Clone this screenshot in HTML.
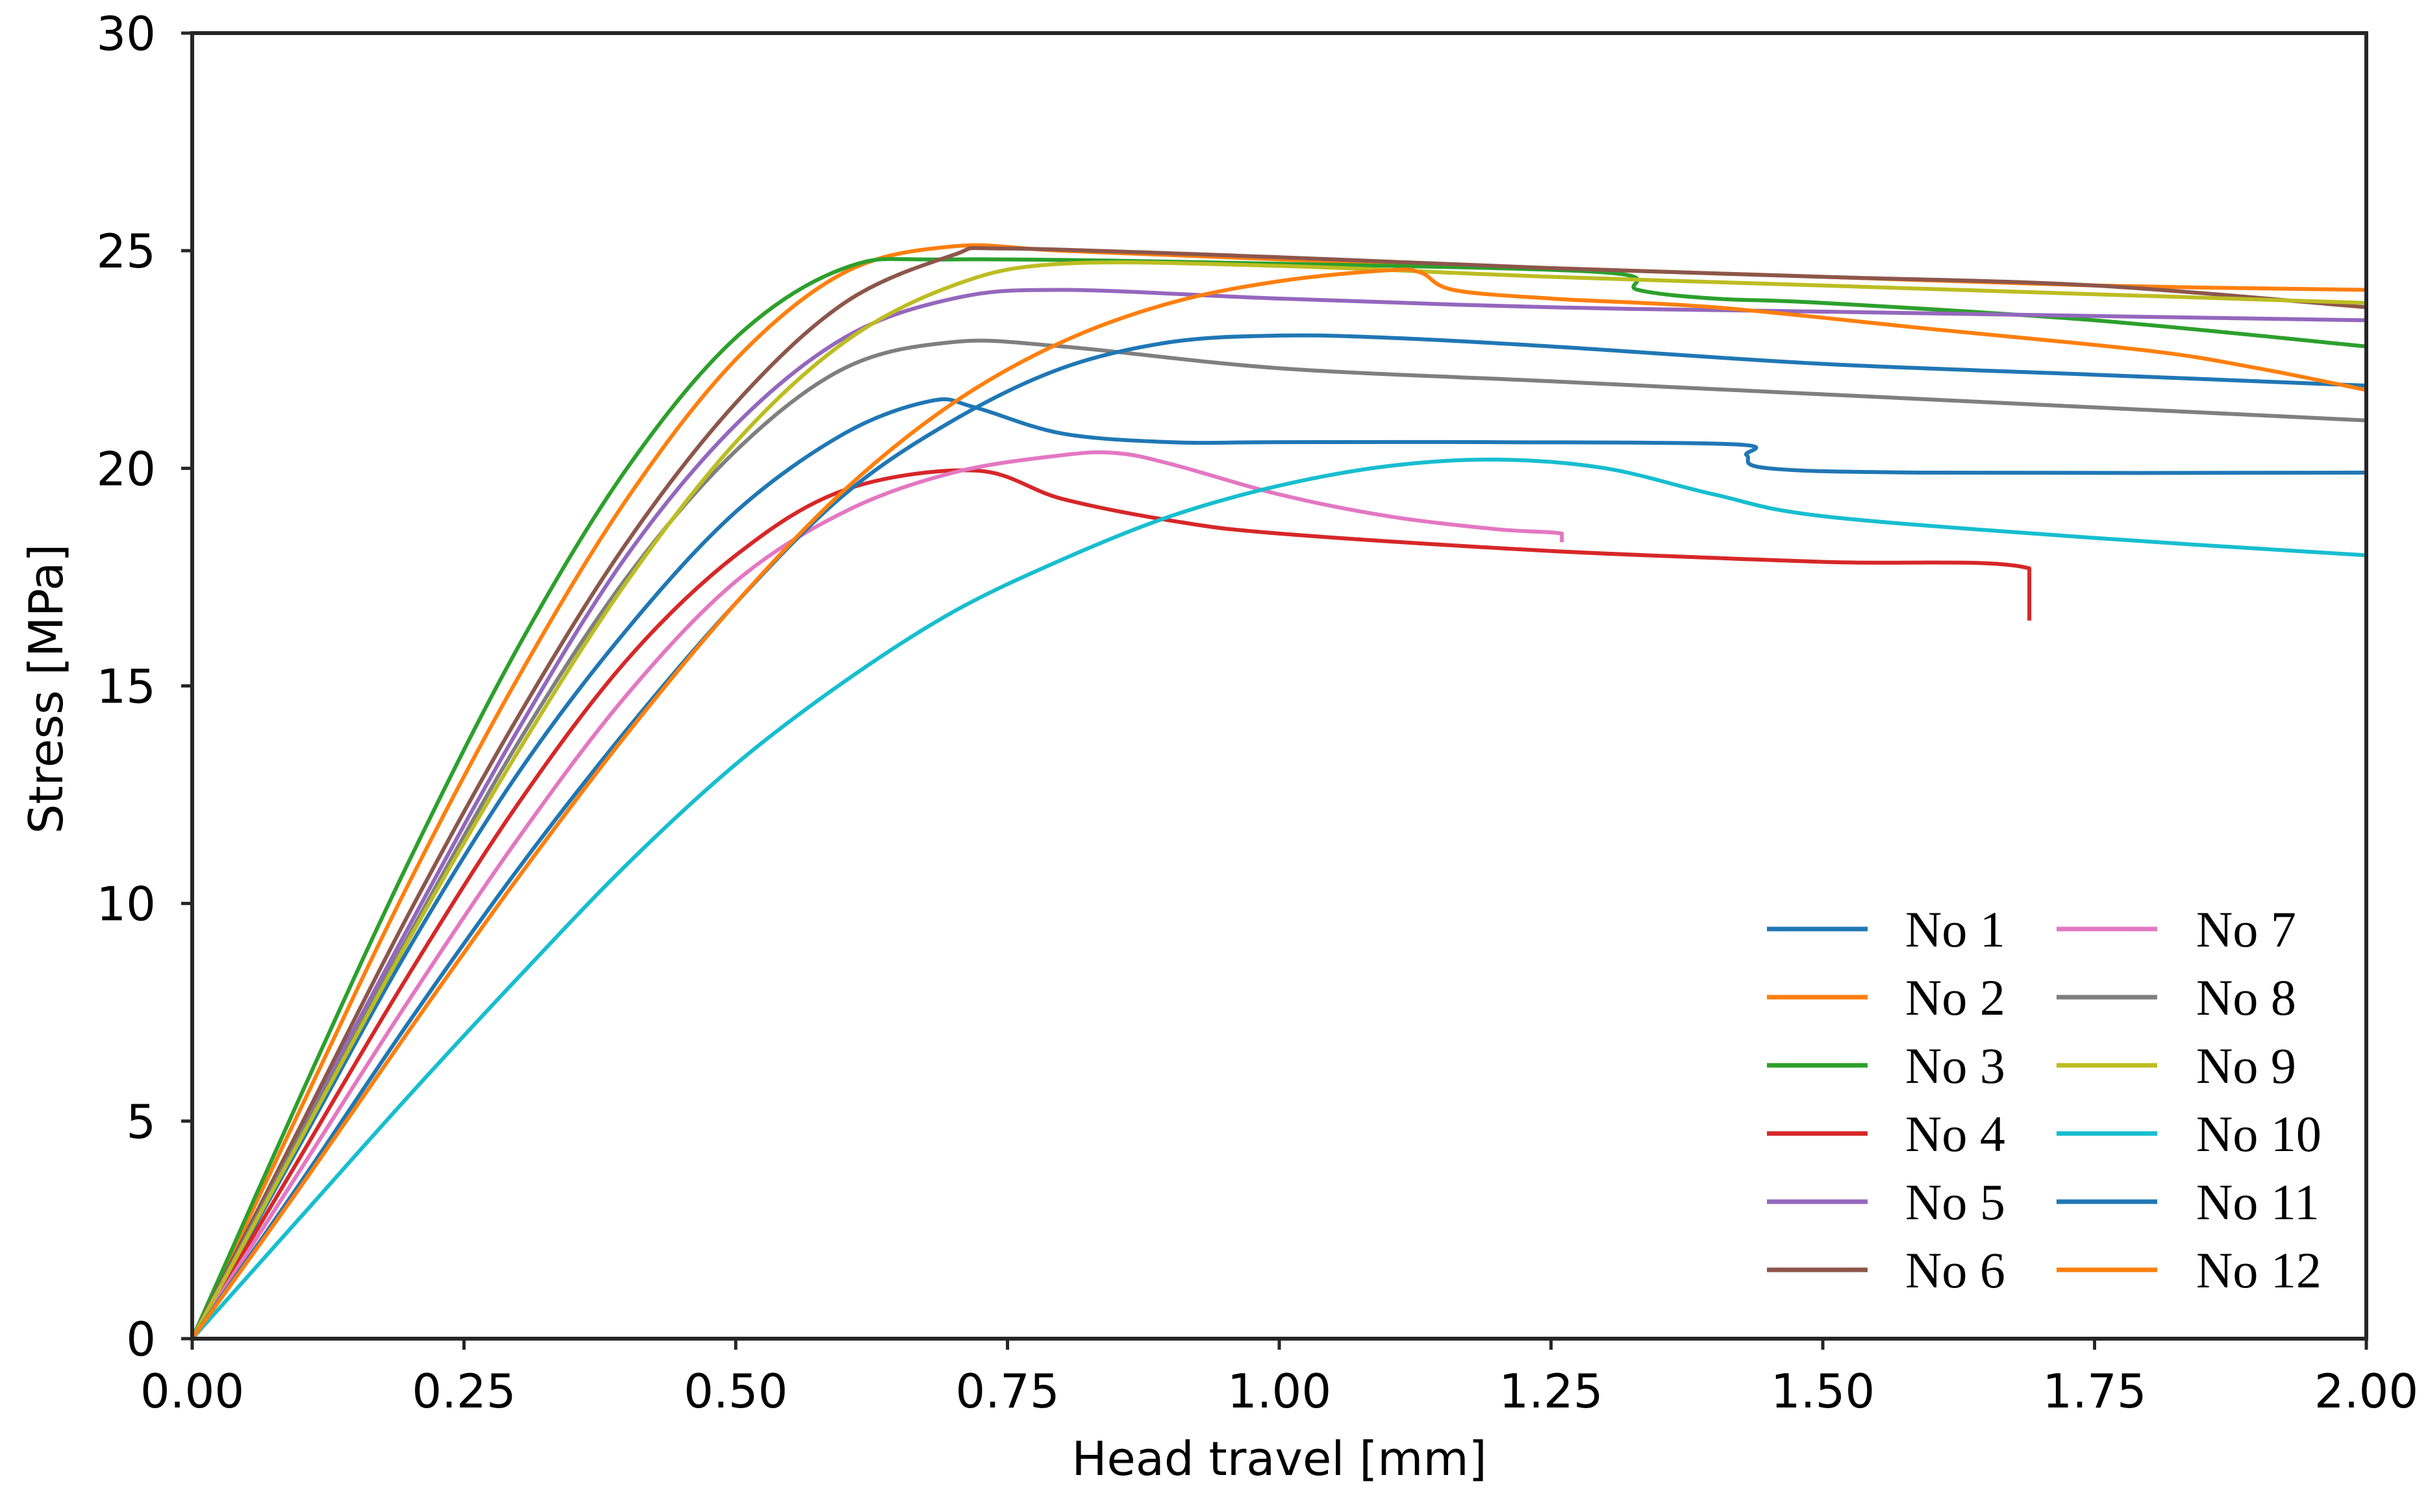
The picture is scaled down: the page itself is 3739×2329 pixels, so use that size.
<!DOCTYPE html>
<html><head><meta charset="utf-8"><style>
html,body{margin:0;padding:0;background:#fff;}
svg{display:block;}
</style></head><body>
<svg id="chart" width="3739" height="2329" viewBox="0 0 3739 2329" xmlns="http://www.w3.org/2000/svg">
<rect width="3739" height="2329" fill="#fff"/>
<g id="series"></g>
<g id="axes"></g>
<g id="legend"></g>
<text x="1970" y="2272" text-anchor="middle" font-family="DejaVu Sans, sans-serif" font-size="72" fill="#000">Head travel [mm]</text>
<text x="0" y="0" transform="translate(96,1061) rotate(-90)" text-anchor="middle" font-family="DejaVu Sans, sans-serif" font-size="72" fill="#000">Stress [MPa]</text>
</svg>
<script>
const xTicks=[0,0.25,0.5,0.75,1.0,1.25,1.5,1.75,2.0];
const xTickLabels=["0.00","0.25","0.50","0.75","1.00","1.25","1.50","1.75","2.00"];
const yTicks=[0,5,10,15,20,25,30];
const yTickLabels=["0","5","10","15","20","25","30"];
const seriesNames=["No 1","No 2","No 3","No 4","No 5","No 6","No 7","No 8","No 9","No 10","No 11","No 12"];
const seriesColors=["#1f77b4","#ff7f0e","#2ca02c","#d62728","#9467bd","#8c564b","#e377c2","#7f7f7f","#bcbd22","#17becf","#1f77b4","#ff7f0e"];
const no1=[[0,0],[0.1,4.5],[0.2,9],[0.3,13],[0.4,16.3],[0.5,19],[0.6,20.8],[0.68,21.55],[0.72,21.4],[0.8,20.8],[0.9,20.6],[1.0,20.6],[1.2,20.6],[1.42,20.55],[1.43,20.3],[1.45,20.0],[1.6,19.9],[2.0,19.9]];
const no2=[[0,0],[0.1,5.3],[0.2,10.5],[0.3,15.2],[0.4,19.3],[0.5,22.5],[0.6,24.5],[0.7,25.1],[0.8,25.0],[1.0,24.8],[1.25,24.6],[1.5,24.4],[1.75,24.2],[2.0,24.1]];
const no3=[[0,0],[0.1,5.6],[0.2,11],[0.3,15.9],[0.4,20],[0.5,23],[0.6,24.6],[0.7,24.8],[1.0,24.7],[1.3,24.5],[1.33,24.1],[1.4,23.9],[1.5,23.8],[1.75,23.4],[2.0,22.8]];
const no4=[[0,0],[0.1,4.2],[0.2,8.4],[0.3,12.3],[0.4,15.6],[0.5,18],[0.6,19.5],[0.72,19.95],[0.8,19.3],[0.9,18.8],[1.0,18.5],[1.25,18.1],[1.5,17.85],[1.69,17.7],[1.69,16.5]];
const no5=[[0,0],[0.1,4.8],[0.2,9.5],[0.3,14],[0.4,18],[0.5,21],[0.6,23],[0.7,23.9],[0.8,24.1],[1.0,23.9],[1.25,23.7],[1.5,23.6],[2.0,23.4]];
const no6=[[0,0],[0.1,4.9],[0.2,9.8],[0.3,14.3],[0.4,18.3],[0.5,21.5],[0.6,23.8],[0.7,24.9],[0.75,25.05],[1.0,24.85],[1.25,24.6],[1.5,24.4],[1.75,24.2],[2.0,23.7]];
const no7=[[0,0],[0.1,3.9],[0.2,7.8],[0.3,11.5],[0.4,14.8],[0.5,17.4],[0.6,19],[0.7,19.9],[0.8,20.3],[0.85,20.35],[0.9,20.1],[1.0,19.4],[1.1,18.9],[1.2,18.6],[1.26,18.5],[1.26,18.3]];
const no8=[[0,0],[0.1,4.7],[0.2,9.3],[0.3,13.7],[0.4,17.5],[0.5,20.4],[0.6,22.3],[0.7,22.9],[0.8,22.8],[1.0,22.3],[1.25,22],[1.5,21.7],[1.75,21.4],[2.0,21.1]];
const no9=[[0,0],[0.1,4.6],[0.2,9.2],[0.3,13.5],[0.4,17.4],[0.5,20.6],[0.6,22.9],[0.7,24.2],[0.8,24.7],[1.0,24.65],[1.25,24.4],[1.5,24.2],[1.75,24.0],[2.0,23.8]];
const no10=[[0,0],[0.1,2.8],[0.2,5.6],[0.3,8.3],[0.4,10.9],[0.5,13.2],[0.6,15.1],[0.7,16.7],[0.8,17.9],[0.9,18.9],[1.0,19.6],[1.1,20.05],[1.2,20.2],[1.3,20.0],[1.4,19.4],[1.5,18.9],[1.75,18.4],[2.0,18.0]];
const no11=[[0,0],[0.1,3.6],[0.2,7.3],[0.3,10.8],[0.4,14],[0.5,16.9],[0.6,19.4],[0.7,21.1],[0.8,22.3],[0.9,22.9],[1.0,23.05],[1.1,23.0],[1.25,22.8],[1.5,22.4],[1.75,22.15],[2.0,21.9]];
const no12=[[0,0],[0.1,3.5],[0.2,7.1],[0.3,10.6],[0.4,13.9],[0.5,16.9],[0.6,19.5],[0.7,21.5],[0.8,22.9],[0.9,23.8],[1.0,24.3],[1.1,24.55],[1.13,24.5],[1.16,24.1],[1.25,23.9],[1.4,23.7],[1.6,23.2],[1.8,22.7],[1.9,22.3],[2.0,21.8]];
const allSeries=[no1,no2,no3,no4,no5,no6,no7,no8,no9,no10,no11,no12];

const NS="http://www.w3.org/2000/svg";
const L=296,R=3644,T=51,B=2062;
const X0=0,X1=2,Y0=0,Y1=30;
function sx(v){return L+(v-X0)/(X1-X0)*(R-L);}
function sy(v){return B-(v-Y0)/(Y1-Y0)*(B-T);}
function mk(tag,attrs,parent){const e=document.createElementNS(NS,tag);for(const k in attrs)e.setAttribute(k,attrs[k]);parent.appendChild(e);return e;}
function smoothPath(pts){
  const p=pts.map(q=>[sx(q[0]),sy(q[1])]);
  let d='M'+p[0][0].toFixed(1)+','+p[0][1].toFixed(1);
  for(let i=0;i<p.length-1;i++){
    const p0=p[Math.max(i-1,0)],p1=p[i],p2=p[i+1],p3=p[Math.min(i+2,p.length-1)];
    const vert=Math.abs(p2[0]-p1[0])<0.5;
    if(vert){d+=' L'+p2[0].toFixed(1)+','+p2[1].toFixed(1);continue;}
    const c1=[p1[0]+(p2[0]-p0[0])/6,p1[1]+(p2[1]-p0[1])/6];
    const c2=[p2[0]-(p3[0]-p1[0])/6,p2[1]-(p3[1]-p1[1])/6];
    d+=' C'+c1[0].toFixed(1)+','+c1[1].toFixed(1)+' '+c2[0].toFixed(1)+','+c2[1].toFixed(1)+' '+p2[0].toFixed(1)+','+p2[1].toFixed(1);
  }
  return d;
}

const gS=document.getElementById('series');
allSeries.forEach((s,i)=>{
  const p=mk('path',{d:smoothPath(s),fill:'none',stroke:seriesColors[i],'stroke-width':6,'stroke-linejoin':'round'},gS);
  
  
});

const gA=document.getElementById('axes');
xTicks.forEach((v,i)=>{
  const t=mk('line',{x1:sx(v),x2:sx(v),y1:B,y2:B+17,stroke:'#262626','stroke-width':5},gA);
  
  
  const tx=mk('text',{x:sx(v),y:2168,'text-anchor':'middle','font-family':'DejaVu Sans, sans-serif','font-size':72,fill:'#000'},gA);
  tx.textContent=xTickLabels[i];
  
  
});
yTicks.forEach((v,i)=>{
  const t=mk('line',{x1:L-17,x2:L,y1:sy(v),y2:sy(v),stroke:'#262626','stroke-width':5},gA);
  
  
  const tx=mk('text',{x:240,y:sy(v)+26,'text-anchor':'end','font-family':'DejaVu Sans, sans-serif','font-size':72,fill:'#000'},gA);
  tx.textContent=yTickLabels[i];
  
  
});
const fr=mk('rect',{x:L,y:T,width:R-L,height:B-T,fill:'none',stroke:'#262626','stroke-width':6},gA);



const gL=document.getElementById('legend');
seriesNames.forEach((n,i)=>{
  const col=Math.floor(i/6),row=i%6;
  const lx=col?3167:2721,tx=col?3382:2934,y=1431+row*105;
  const ln=mk('line',{x1:lx,x2:lx+155,y1:y,y2:y,stroke:seriesColors[i],'stroke-width':7},gL);
  
  
  const t=mk('text',{x:tx,y:y+27,'font-family':'Liberation Serif, serif','font-size':78,fill:'#000'},gL);
  t.textContent=n;
  
  
});
</script>
</body></html>
